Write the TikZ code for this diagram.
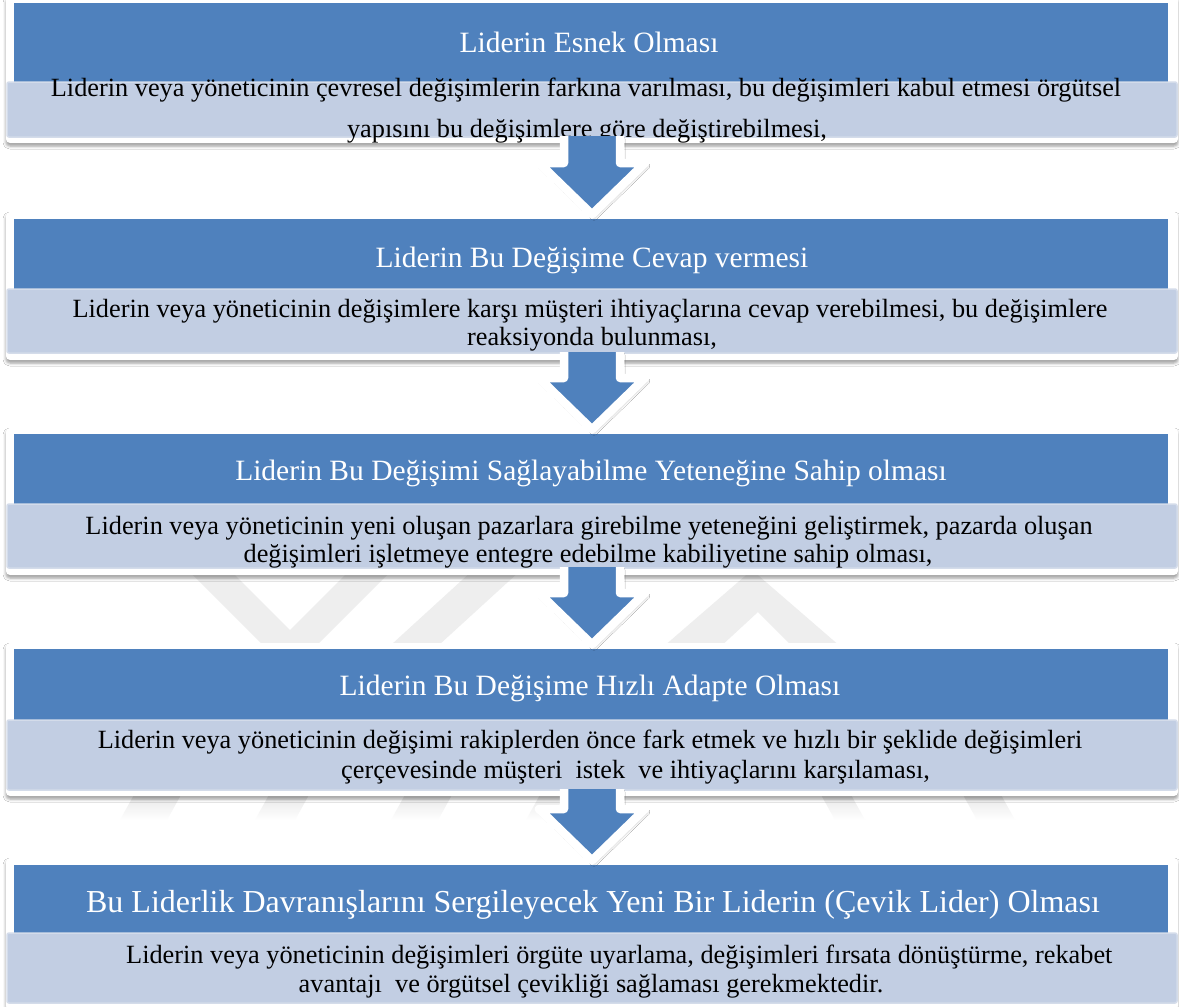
\documentclass[tikz,border=0pt]{standalone}
\usepackage{fontspec}
\setmainfont{Liberation Serif}
\usetikzlibrary{calc,shadows.blur}

\definecolor{hdrblue}{HTML}{4F81BD}
\definecolor{bandfill}{HTML}{C2CEE3}
\definecolor{bandrim}{HTML}{D4DCEA}
\definecolor{markgrey}{HTML}{EEEEEE}

\tikzset{
  framebox/.style={fill=white, rounded corners=4pt, inner sep=0pt, outer sep=0pt,
    blur shadow={shadow xshift=0pt, shadow yshift=-3pt, shadow blur radius=3pt, shadow opacity=40}},
  hdrbox/.style={fill=hdrblue, inner sep=0pt, outer sep=0pt},
  bandbox/.style={fill=bandfill, draw=bandrim, line width=1.5pt, rounded corners=2pt, inner sep=0pt, outer sep=0pt},
  htext/.style={text=white, font=\fontsize{29.5}{35}\selectfont, anchor=base, inner sep=0pt},
  hbigtext/.style={text=white, font=\fontsize{32}{38}\selectfont, anchor=base, inner sep=0pt},
  btext/.style={text=black, font=\fontsize{26.3}{31}\selectfont, anchor=base, inner sep=0pt},
  btextleft/.style={btext, anchor=base west},
  wmark/.style={fill=markgrey},
  wfade/.style={top color=black!10, bottom color=white, draw=none},
  arrowbody/.style={fill=hdrblue,
    blur shadow={shadow xshift=2pt, shadow yshift=-3pt, shadow blur radius=3pt, shadow opacity=35}},
  arrowrim/.style={draw=white, line width=8.5pt, line join=round},
}

% one stage: frame, blue title strip and light text band
% #1 id, #2 frame top, #3 strip top, #4 band top, #5 band bottom, #6 frame bottom
\newcommand\stagebox[6]{%
  \node[framebox, minimum width=1172pt, minimum height={#6-(#2)}, anchor=north west] (frame#1) at (6,#2) {};
  \node[hdrbox, minimum width=1154pt, minimum height={#4-(#3)}, anchor=north west] (hdr#1) at (14,#3) {};
  \node[bandbox, minimum width=1170pt, minimum height={#5-(#4)}, anchor=north west] (band#1) at (7,#4) {};
}

% block arrow from the bottom of one band to the top of the next title strip
\newcommand\blockarrow[2]{%
  \fill[arrowbody] let \p1=(#1), \p2=(#2) in
    (\x1-28pt,\y1+1pt) -- (\x1-28pt,\y2+56pt) -- (\x1-53pt,\y2+56pt) -- (\x1,\y2+4.5pt)
    -- (\x1+53pt,\y2+56pt) -- (\x1+28pt,\y2+56pt) -- (\x1+28pt,\y1+1pt) -- cycle;
  \draw[arrowrim] let \p1=(#1), \p2=(#2) in
    (\x1-28pt,\y1+1pt) -- (\x1-28pt,\y2+56pt) -- (\x1-53pt,\y2+56pt) -- (\x1,\y2+4.5pt)
    -- (\x1+53pt,\y2+56pt) -- (\x1+28pt,\y2+56pt) -- (\x1+28pt,\y1+1pt);
}

\begin{document}
\begin{tikzpicture}[x=1pt,y=-1pt]
\useasboundingbox (0,0) rectangle (1179,1007);
\fill[white] (0,0) rectangle (1179,1007);

% faint emblem behind the lower stages
\fill[wmark, even odd rule] (178,560) -- (402,560) -- (290,672) -- cycle
                           (220,560) -- (360,560) -- (290,630) -- cycle;
\fill[wmark] (380,655) -- (428,655) -- (532,560) -- (484,560) -- cycle;
\fill[wmark, even odd rule] (648,660) -- (752,570) -- (856,660) -- cycle
                            (706,660) -- (758,612) -- (806,660) -- cycle;
\shade[wfade] (135,793) -- (182,793) -- (167,820) -- (120,820) -- cycle;
\shade[wfade] (270,793) -- (310,793) -- (295,820) -- (255,820) -- cycle;
\shade[wfade] (406,793) -- (453,793) -- (438,820) -- (391,820) -- cycle;
\shade[wfade] (541,793) -- (566,793) -- (551,820) -- (526,820) -- cycle;
\shade[wfade] (820,793) -- (850,793) -- (865,820) -- (835,820) -- cycle;
\shade[wfade] (962,793) -- (1000,793) -- (1015,820) -- (977,820) -- cycle;

% stages
\stagebox{1}{-4}{3}{82}{137}{143}
\stagebox{2}{212}{219}{289}{353}{360}
\stagebox{3}{428}{434}{504}{568}{575}
\stagebox{4}{643}{649}{720}{790}{796}
\stagebox{5}{858}{865}{933}{1003}{1010}

% stage 1
\node[htext] (t1) at (589,52) {Liderin Esnek Olması};
\node[btext] (d1a) at (586,96) {Liderin veya yöneticinin çevresel değişimlerin farkına varılması, bu değişimleri kabul etmesi örgütsel};
\node[btext] (d1b) at (587,137) {yapısını bu değişimlere göre değiştirebilmesi,};

% stage 2
\node[htext] (t2) at (592,267) {Liderin Bu Değişime Cevap vermesi};
\node[btext] (d2a) at (590,317) {Liderin veya yöneticinin değişimlere karşı müşteri ihtiyaçlarına cevap verebilmesi, bu değişimlere};
\node[btext] (d2b) at (592,345) {reaksiyonda bulunması,};

% stage 3
\node[htext] (t3) at (591,480) {Liderin Bu Değişimi Sağlayabilme Yeteneğine Sahip olması};
\node[btext] (d3a) at (589,534) {Liderin veya yöneticinin yeni oluşan pazarlara girebilme yeteneğini geliştirmek, pazarda oluşan};
\node[btext] (d3b) at (588,562) {değişimleri işletmeye entegre edebilme kabiliyetine sahip olması,};

% stage 4
\node[htext] (t4) at (590,695) {Liderin Bu Değişime Hızlı Adapte Olması};
\node[btext] (d4a) at (590,748) {Liderin veya yöneticinin değişimi rakiplerden önce fark etmek ve hızlı bir şeklide değişimleri};
\node[btextleft] (d4b) at (341,778) {çerçevesinde müşteri\ \ istek\ \ ve ihtiyaçlarını karşılaması,};

% stage 5
\node[hbigtext] (t5) at (593,912) {Bu Liderlik Davranışlarını Sergileyecek Yeni Bir Liderin (Çevik Lider) Olması};
\node[btextleft] (d5a) at (126,963) {Liderin veya yöneticinin değişimleri örgüte uyarlama, değişimleri fırsata dönüştürme, rekabet};
\node[btext] (d5b) at (591,992) {avantajı\ \ ve örgütsel çevikliği sağlaması gerekmektedir.};

% arrows between the stages
\blockarrow{band1.south}{hdr2.north}
\blockarrow{band2.south}{hdr3.north}
\blockarrow{band3.south}{hdr4.north}
\blockarrow{band4.south}{hdr5.north}
\end{tikzpicture}
\end{document}
